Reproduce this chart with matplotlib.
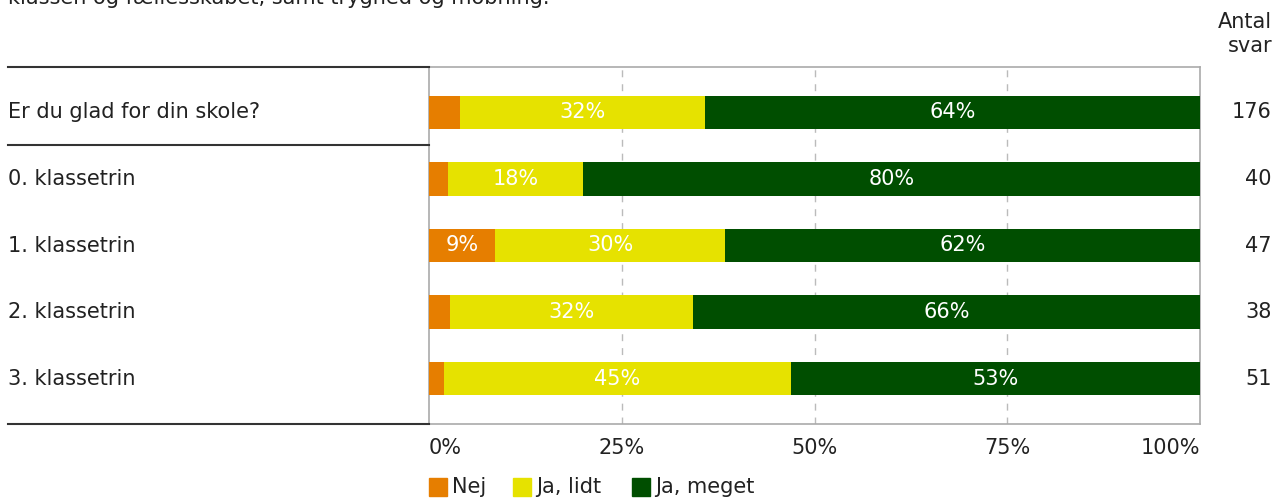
import matplotlib
matplotlib.use("Agg")
import matplotlib.pyplot as plt
from matplotlib.patches import Rectangle
import numpy as np

categories = ["Er du glad for din skole?", "0. klassetrin", "1. klassetrin", "2. klassetrin", "3. klassetrin"]
series_names = ["Nej", "Ja, lidt", "Ja, meget"]
nej = [4.0, 2.5, 8.6, 2.7, 1.9]
ja_lidt = [31.8, 17.5, 29.8, 31.5, 45.1]
ja_meget = [64.2, 80.0, 61.6, 65.8, 53.0]
counts = [176, 40, 47, 38, 51]
xticks = [0, 25, 50, 75, 100]
xticklabels = ["0%", "25%", "50%", "75%", "100%"]
title = "klassen og fællesskabet, samt tryghed og mobning."

colors = ["#E67E00", "#E6E200", "#004E00"]
FS = 15

W, H = 1274, 499
fig = plt.figure(figsize=(W / 100, H / 100), dpi=100)

def fx(px):
    return px / W

def fy(py):
    return 1 - py / H

ax_l, ax_r, ax_t, ax_b = 429, 1200, 67, 424
ax = fig.add_axes([fx(ax_l), fy(ax_b), fx(ax_r - ax_l), (ax_b - ax_t) / H])
n = len(categories)
ypos = np.arange(n)
pad = 0.68
ax.set_ylim(n - 1 + pad, -pad)
ax.set_xlim(0, 100)

left = np.zeros(n)
for vals, col in zip([nej, ja_lidt, ja_meget], colors):
    vals = np.array(vals)
    ax.barh(ypos, vals, left=left, height=0.5, color=col, zorder=3)
    for i, v in enumerate(vals):
        if v >= 5:
            ax.text(left[i] + v / 2, ypos[i], f"{round(v)}%", ha="center", va="center",
                    color="white", fontsize=FS, zorder=4)
    left += vals

for x in [25, 50, 75]:
    ax.axvline(x, color="#bbbbbb", lw=1, ls=(0, (5, 5)), zorder=1)
for s in ax.spines.values():
    s.set_color("#aaaaaa")
    s.set_linewidth(1.2)
ax.set_xticks([])
ax.set_yticks([])

# tick labels
for x, lab in zip(xticks, xticklabels):
    ha = "left" if x == 0 else ("right" if x == 100 else "center")
    ax.text(x, n - 1 + pad + 0.36, lab, ha=ha, va="center", fontsize=FS, color="#222222")

# category labels and counts
for i, c in enumerate(categories):
    yy = ax.transData.transform((0, ypos[i]))[1] / H
    fig.text(fx(8), yy, c, ha="left", va="center", fontsize=FS, color="#222222")
    fig.text(fx(1272), yy, str(counts[i]), ha="right", va="center", fontsize=FS, color="#222222")

fig.text(fx(1272), fy(22), "Antal", ha="right", va="center", fontsize=FS, color="#222222")
fig.text(fx(1272), fy(46), "svar", ha="right", va="center", fontsize=FS, color="#222222")

# separator lines on the left
for py in [67, 145, 424]:
    fig.add_artist(plt.Line2D([fx(8), fx(ax_l)], [fy(py), fy(py)], color="#333333", lw=1.5))

# title (partially cut off at top, as in the reference)
fig.text(fx(8), fy(4), title, ha="left", va="baseline", fontsize=FS, color="#222222")

# legend
lx = [429, 513, 632]
for x0, name, col in zip(lx, series_names, colors):
    fig.add_artist(Rectangle((fx(x0), fy(496)), fx(18), 18 / H, color=col, transform=fig.transFigure))
    fig.text(fx(x0 + 23), fy(487), name, ha="left", va="center", fontsize=FS, color="#222222")

fig.savefig("out.png", dpi=100)
